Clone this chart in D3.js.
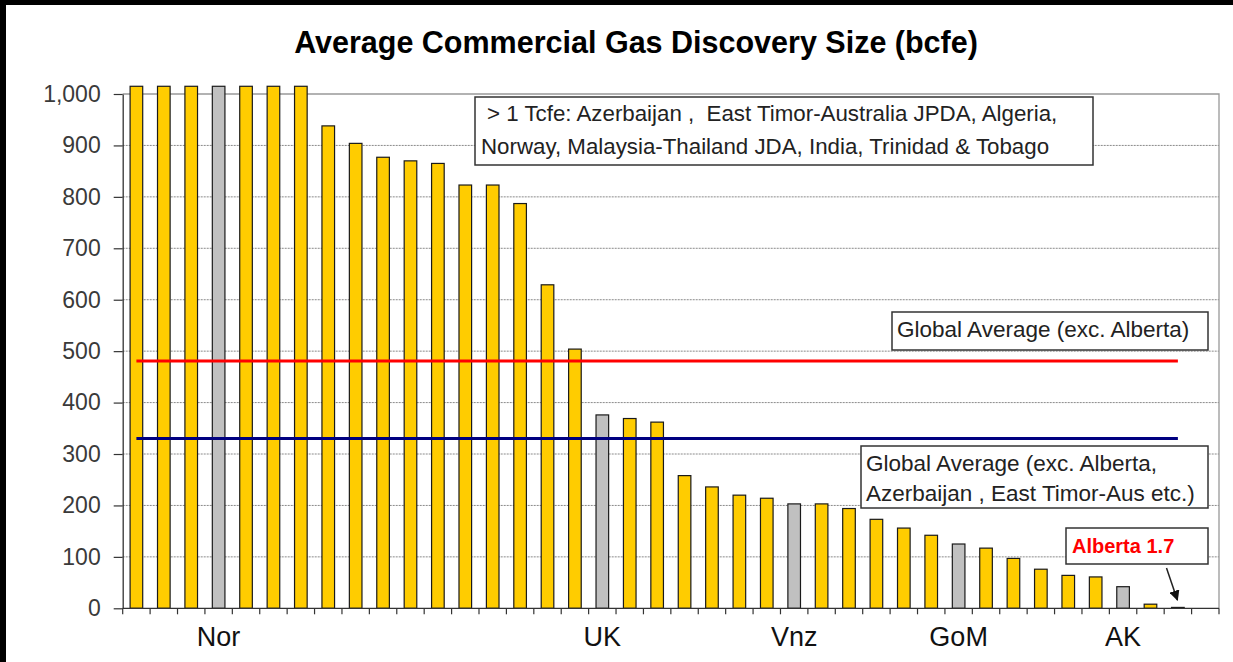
<!DOCTYPE html>
<html>
<head>
<meta charset="utf-8">
<script src="https://cdn.jsdelivr.net/npm/d3@7/dist/d3.min.js"></script>
<style>
  html, body { margin: 0; padding: 0; background: #fff; }
  svg { display: block; font-family: "Liberation Sans", Arial, sans-serif; }
</style>
</head>
<body>
<svg id="chart" width="1233" height="662"></svg>
<script>
// ---------------- data ----------------
const title = "Average Commercial Gas Discovery Size (bcfe)";
const categories = d3.range(1, 41).map(i => "c" + i);
const categoryLabels = ["", "", "", "Nor", "", "", "", "", "", "",
                        "", "", "", "", "", "", "", "UK", "", "",
                        "", "", "", "", "Vnz", "", "", "", "", "",
                        "GoM", "", "", "", "", "", "AK", "", "", ""];
const values = [1015, 1015, 1015, 1015, 1015, 1015, 1015, 938, 904, 877,
                870, 865, 823, 823, 787, 629, 504, 376, 369, 362,
                258, 236, 220, 214, 203, 203, 194, 173, 156, 142,
                125, 117, 97, 76, 64, 61, 42, 8, 1.7, null];
const highlighted = [false, false, false, true, false, false, false, false, false, false,
                     false, false, false, false, false, false, false, true, false, false,
                     false, false, false, false, true, false, false, false, false, false,
                     true, false, false, false, false, false, true, false, false, false];
const yTicks = [0, 100, 200, 300, 400, 500, 600, 700, 800, 900, 1000];
const avgAll = 481;      // Global Average (exc. Alberta)
const avgExcl = 330;     // Global Average (exc. Alberta, Azerbaijan, East Timor-Aus etc.)
const avgFirst = "c1", avgLast = "c39";
const noteTcfe = ["> 1 Tcfe: Azerbaijan ,  East Timor-Australia JPDA, Algeria,",
                  "Norway, Malaysia-Thailand JDA, India, Trinidad & Tobago"];
const noteAvgAll = ["Global Average (exc. Alberta)"];
const noteAvgExcl = ["Global Average (exc. Alberta,", "Azerbaijan , East Timor-Aus etc.)"];
const noteAlberta = ["Alberta 1.7"];
const albertaCat = "c39";

// ---------------- layout ----------------
const svg = d3.select("#chart");
const W = 1233, H = 662;
const plot = { left: 122.7, right: 1219, top: 94, bottom: 608.3 };

svg.append("rect").attr("width", W).attr("height", H).attr("fill", "#fff");
// black frame edges (top/left)
svg.append("rect").attr("x", 0).attr("y", 0).attr("width", W).attr("height", 5).attr("fill", "#000");
svg.append("rect").attr("x", 0).attr("y", 0).attr("width", 6).attr("height", H).attr("fill", "#000");

const x = d3.scaleBand().domain(categories).range([plot.left, plot.right])
  .paddingInner(0.54).paddingOuter(0.27);
const y = d3.scaleLinear().domain([0, 1000]).range([plot.bottom, plot.top]);

// title
svg.append("text")
  .attr("x", 636).attr("y", 53)
  .attr("text-anchor", "middle")
  .attr("font-size", 30.5).attr("font-weight", "bold").attr("fill", "#000")
  .text(title);

// gridlines
svg.append("g").selectAll("line")
  .data(yTicks.filter(t => t > 0 && t < 1000))
  .join("line")
  .attr("x1", plot.left).attr("x2", plot.right)
  .attr("y1", d => y(d)).attr("y2", d => y(d))
  .attr("stroke", "#8a8a8a").attr("stroke-width", 1)
  .attr("stroke-dasharray", "2,1");

// plot frame (top, right)
svg.append("path")
  .attr("d", `M${plot.left},${y(1000)}H${plot.right}V${plot.bottom}`)
  .attr("fill", "none").attr("stroke", "#999").attr("stroke-width", 1.3);

// bars
const step = x.step(), bw = x.bandwidth();
const barData = categories.map((c, i) => ({ c, v: values[i], hl: highlighted[i] }))
  .filter(d => d.v != null);
svg.append("g").selectAll("rect")
  .data(barData)
  .join("rect")
  .attr("x", d => x(d.c))
  .attr("width", bw)
  .attr("y", d => y(d.v))
  .attr("height", d => y(0) - y(d.v))
  .attr("fill", d => d.hl ? "#c0c0c0" : "#ffcc00")
  .attr("stroke", "#1a1a1a").attr("stroke-width", 1.2);

// average lines
const lineX1 = x(avgFirst) + bw / 2, lineX2 = x(avgLast) + bw / 2;
svg.append("line")
  .attr("x1", lineX1).attr("x2", lineX2)
  .attr("y1", y(avgAll)).attr("y2", y(avgAll))
  .attr("stroke", "#ff0000").attr("stroke-width", 3);
svg.append("line")
  .attr("x1", lineX1).attr("x2", lineX2)
  .attr("y1", y(avgExcl)).attr("y2", y(avgExcl))
  .attr("stroke", "#000080").attr("stroke-width", 3);

// y axis
const yAxis = d3.axisLeft(y).tickValues(yTicks).tickFormat(d3.format(","))
  .tickSize(9).tickPadding(13).tickSizeOuter(0);
const gy = svg.append("g").attr("transform", `translate(${plot.left},0)`).call(yAxis);
gy.select(".domain").attr("stroke", "#333").attr("stroke-width", 1.3);
gy.selectAll(".tick line").attr("stroke", "#333").attr("stroke-width", 1.2);
gy.selectAll(".tick text")
  .attr("font-size", 23).attr("fill", "#3a3a3a")
  .attr("font-family", "Liberation Sans, Arial, sans-serif");

// x axis line and ticks at band boundaries
svg.append("line")
  .attr("x1", plot.left).attr("x2", plot.right)
  .attr("y1", y(0)).attr("y2", y(0))
  .attr("stroke", "#333").attr("stroke-width", 1.3);
const boundaries = categories.map(c => x(c) - (step - bw) / 2).concat([plot.right]);
svg.append("g").selectAll("line")
  .data(boundaries)
  .join("line")
  .attr("x1", d => d).attr("x2", d => d)
  .attr("y1", y(0)).attr("y2", y(0) + 6)
  .attr("stroke", "#333").attr("stroke-width", 1.2);

// category labels
svg.append("g").selectAll("text")
  .data(categories.map((c, i) => ({ c, l: categoryLabels[i] })).filter(d => d.l))
  .join("text")
  .attr("x", d => x(d.c) + bw / 2)
  .attr("y", 646)
  .attr("text-anchor", "middle")
  .attr("font-size", 27).attr("fill", "#111")
  .text(d => d.l);

// annotation boxes
function note(x0, y0, w, h, lines, opts) {
  const g = svg.append("g");
  g.append("rect").attr("x", x0).attr("y", y0).attr("width", w).attr("height", h)
    .attr("fill", "#fff").attr("stroke", "#333").attr("stroke-width", 1.5);
  const lh = opts.lh || 0;
  lines.forEach((t, i) => {
    const dx = opts.dx[Math.min(i, opts.dx.length - 1)];
    g.append("text")
      .attr("x", x0 + dx)
      .attr("y", y0 + opts.base + i * lh)
      .attr("font-size", opts.size)
      .attr("font-weight", opts.weight || "normal")
      .attr("fill", opts.color || "#222")
      .style("white-space", "pre")
      .text(t);
  });
}
note(475, 97, 618, 68, noteTcfe, { dx: [12, 6], base: 24, lh: 33, size: 22.3 });
note(892, 312, 316, 38, noteAvgAll, { dx: [5], base: 25, size: 22.5 });
note(861, 446, 347, 62, noteAvgExcl, { dx: [5], base: 25, lh: 30, size: 22.5 });
note(1066, 528, 142, 36, noteAlberta, { dx: [6], base: 25, size: 20, weight: "bold", color: "#ff0000" });

// arrow to Alberta bar
const defs = svg.append("defs");
defs.append("marker").attr("id", "arrowhead")
  .attr("viewBox", "0 0 10 10").attr("refX", 9).attr("refY", 5)
  .attr("markerWidth", 7).attr("markerHeight", 7).attr("orient", "auto")
  .append("path").attr("d", "M0,0L10,5L0,10z").attr("fill", "#111");
svg.append("line")
  .attr("x1", 1166.5).attr("y1", 568)
  .attr("x2", x(albertaCat) + bw / 2 - 0.5).attr("y2", 600)
  .attr("stroke", "#222").attr("stroke-width", 1.5)
  .attr("marker-end", "url(#arrowhead)");
</script>
</body>
</html>
